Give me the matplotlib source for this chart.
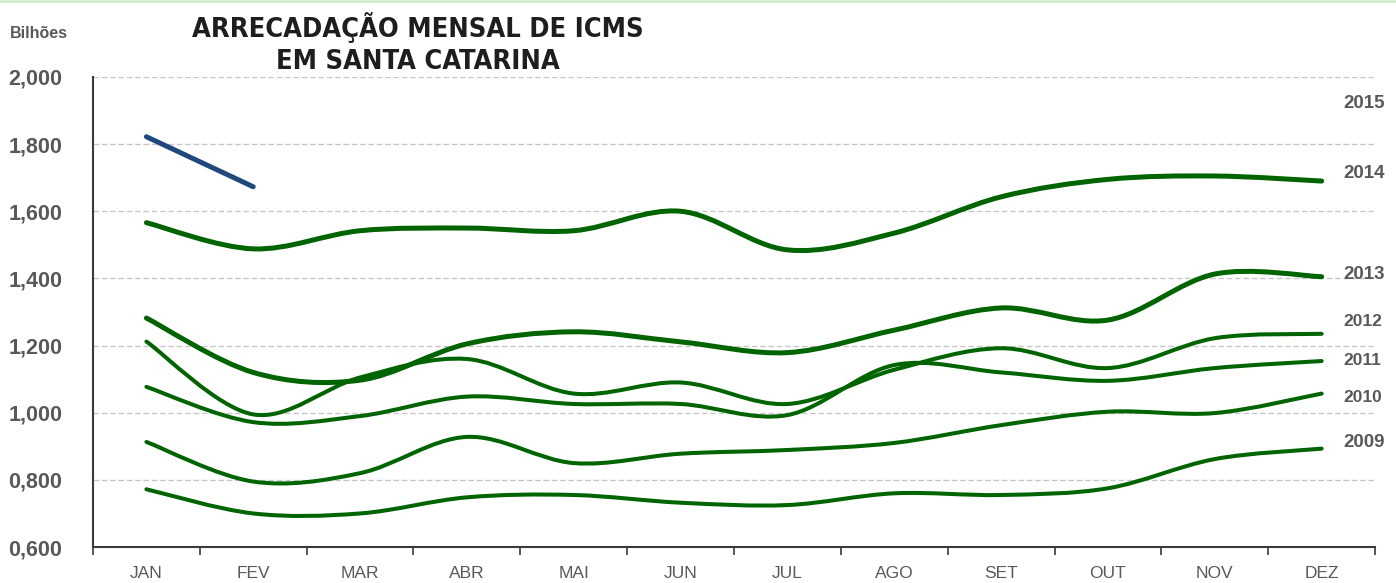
import matplotlib
matplotlib.use("Agg")
import matplotlib.pyplot as plt
from matplotlib.path import Path
from matplotlib.patches import PathPatch
from matplotlib import font_manager

# Monthly ICMS collection, billions of R$
months = ["JAN", "FEV", "MAR", "ABR", "MAI", "JUN", "JUL", "AGO", "SET", "OUT", "NOV", "DEZ"]
icms_2009 = [0.772, 0.700, 0.700, 0.748, 0.755, 0.732, 0.725, 0.760, 0.755, 0.775, 0.862, 0.893]
icms_2010 = [0.913, 0.795, 0.820, 0.928, 0.850, 0.878, 0.889, 0.910, 0.963, 1.003, 0.999, 1.057]
icms_2011 = [1.077, 0.972, 0.990, 1.048, 1.026, 1.026, 0.993, 1.142, 1.120, 1.095, 1.133, 1.154]
icms_2012 = [1.212, 0.995, 1.105, 1.160, 1.057, 1.090, 1.026, 1.128, 1.192, 1.133, 1.222, 1.235]
icms_2013 = [1.282, 1.120, 1.097, 1.205, 1.241, 1.211, 1.179, 1.246, 1.312, 1.276, 1.413, 1.405]
icms_2014 = [1.566, 1.488, 1.542, 1.550, 1.542, 1.600, 1.485, 1.535, 1.643, 1.695, 1.705, 1.690]
icms_2015 = [1.822, 1.673]

series = [
    ("2009", icms_2009, 2.9, 0.910, 13.5),
    ("2010", icms_2010, 2.9, 1.044, 12.5),
    ("2011", icms_2011, 2.9, 1.157, 12.5),
    ("2012", icms_2012, 2.9, 1.273, 12.5),
    ("2013", icms_2013, 3.6, 1.413, 13.5),
    ("2014", icms_2014, 3.6, 1.711, 13.5),
    ("2015", icms_2015, 3.6, 1.920, 13.5),
]

GREEN = "#006400"
NAVY = "#1f497d"
GRAY = "#595959"


def smooth_path(xs, ys):
    # Excel-style smoothed line: Catmull-Rom segments as cubic Beziers
    pts = list(zip(xs, ys))
    if len(pts) < 3:
        return Path(pts)
    verts = [pts[0]]
    codes = [Path.MOVETO]
    n = len(pts)
    for i in range(n - 1):
        p0 = pts[i - 1] if i > 0 else pts[i]
        p1 = pts[i]
        p2 = pts[i + 1]
        p3 = pts[i + 2] if i + 2 < n else pts[i + 1]
        c1 = (p1[0] + (p2[0] - p0[0]) / 6, p1[1] + (p2[1] - p0[1]) / 6)
        c2 = (p2[0] - (p3[0] - p1[0]) / 6, p2[1] - (p3[1] - p1[1]) / 6)
        verts += [c1, c2, p2]
        codes += [Path.CURVE4] * 3
    return Path(verts, codes)


# pick a condensed bold face for the title if one is installed
title_font = None
for f in font_manager.fontManager.ttflist:
    if "Condensed" in f.fname and "Bold" in f.fname and "Oblique" not in f.fname and "Italic" not in f.fname:
        title_font = f.fname
        break

plt.rcParams["font.family"] = ["Liberation Sans", "DejaVu Sans"]

fig = plt.figure(figsize=(13.96, 5.83), dpi=100)
ax = fig.add_axes([0.0666, 0.0617, 0.9184, 0.8063])

for year, vals, lw, label_y, fs in series:
    color = NAVY if year == "2015" else GREEN
    xs = list(range(len(vals)))
    patch = PathPatch(smooth_path(xs, vals), facecolor="none", edgecolor=color,
                      lw=lw, capstyle="round", joinstyle="round", zorder=3)
    ax.add_patch(patch)
    ax.text(11.2, label_y, year, ha="left", va="center", fontsize=fs,
            fontweight="bold", color=GRAY, clip_on=False)

ax.set_xlim(-0.5, 11.5)
ax.set_ylim(0.6, 2.0)

ax.set_xticks(range(12))
ax.set_xticklabels(months)
ax.set_xticks([i - 0.5 for i in range(13)], minor=True)
ax.tick_params(axis="x", which="major", length=0, pad=14, labelsize=12.5, labelcolor=GRAY)
ax.tick_params(axis="x", which="minor", length=6, width=1.2, color="#3a3a3a", direction="out")

yt = [0.6, 0.8, 1.0, 1.2, 1.4, 1.6, 1.8, 2.0]
ax.set_yticks(yt)
ax.set_yticklabels([f"{v:.3f}".replace(".", ",") for v in yt])
ax.set_yticks([0.6, 2.0], minor=True)
ax.tick_params(axis="y", which="major", length=0, pad=22, labelsize=15.5, labelcolor=GRAY)
ax.tick_params(axis="y", which="minor", length=7, width=1.2, color="#3a3a3a")
for lab in ax.get_yticklabels():
    lab.set_fontweight("bold")

ax.grid(axis="y", which="major", linestyle=(0, (4, 2)), color="#c8c8c8", lw=1)
ax.set_axisbelow(True)
for side in ["top", "right"]:
    ax.spines[side].set_visible(False)
for side in ["left", "bottom"]:
    ax.spines[side].set_color("#3a3a3a")
    ax.spines[side].set_linewidth(1.5)

fig.text(0.007, 0.943, "Bilhões", fontsize=11.5, fontweight="bold", color=GRAY,
         ha="left", va="center")

title = "ARRECADAÇÃO MENSAL DE ICMS\nEM SANTA CATARINA"
if title_font:
    fig.text(0.2995, 0.872, title, color="#1e1e1e", ha="center", va="bottom",
             linespacing=1.3, fontproperties=font_manager.FontProperties(fname=title_font, size=19.5))
else:
    fig.text(0.2995, 0.872, title, fontsize=18, fontweight="bold", color="#1e1e1e",
             ha="center", va="bottom", linespacing=1.3)

fig.add_artist(plt.Line2D([0, 1], [0.999, 0.999], color="#d5ebd0", lw=2,
                          transform=fig.transFigure))

fig.savefig("out.png", dpi=100)
